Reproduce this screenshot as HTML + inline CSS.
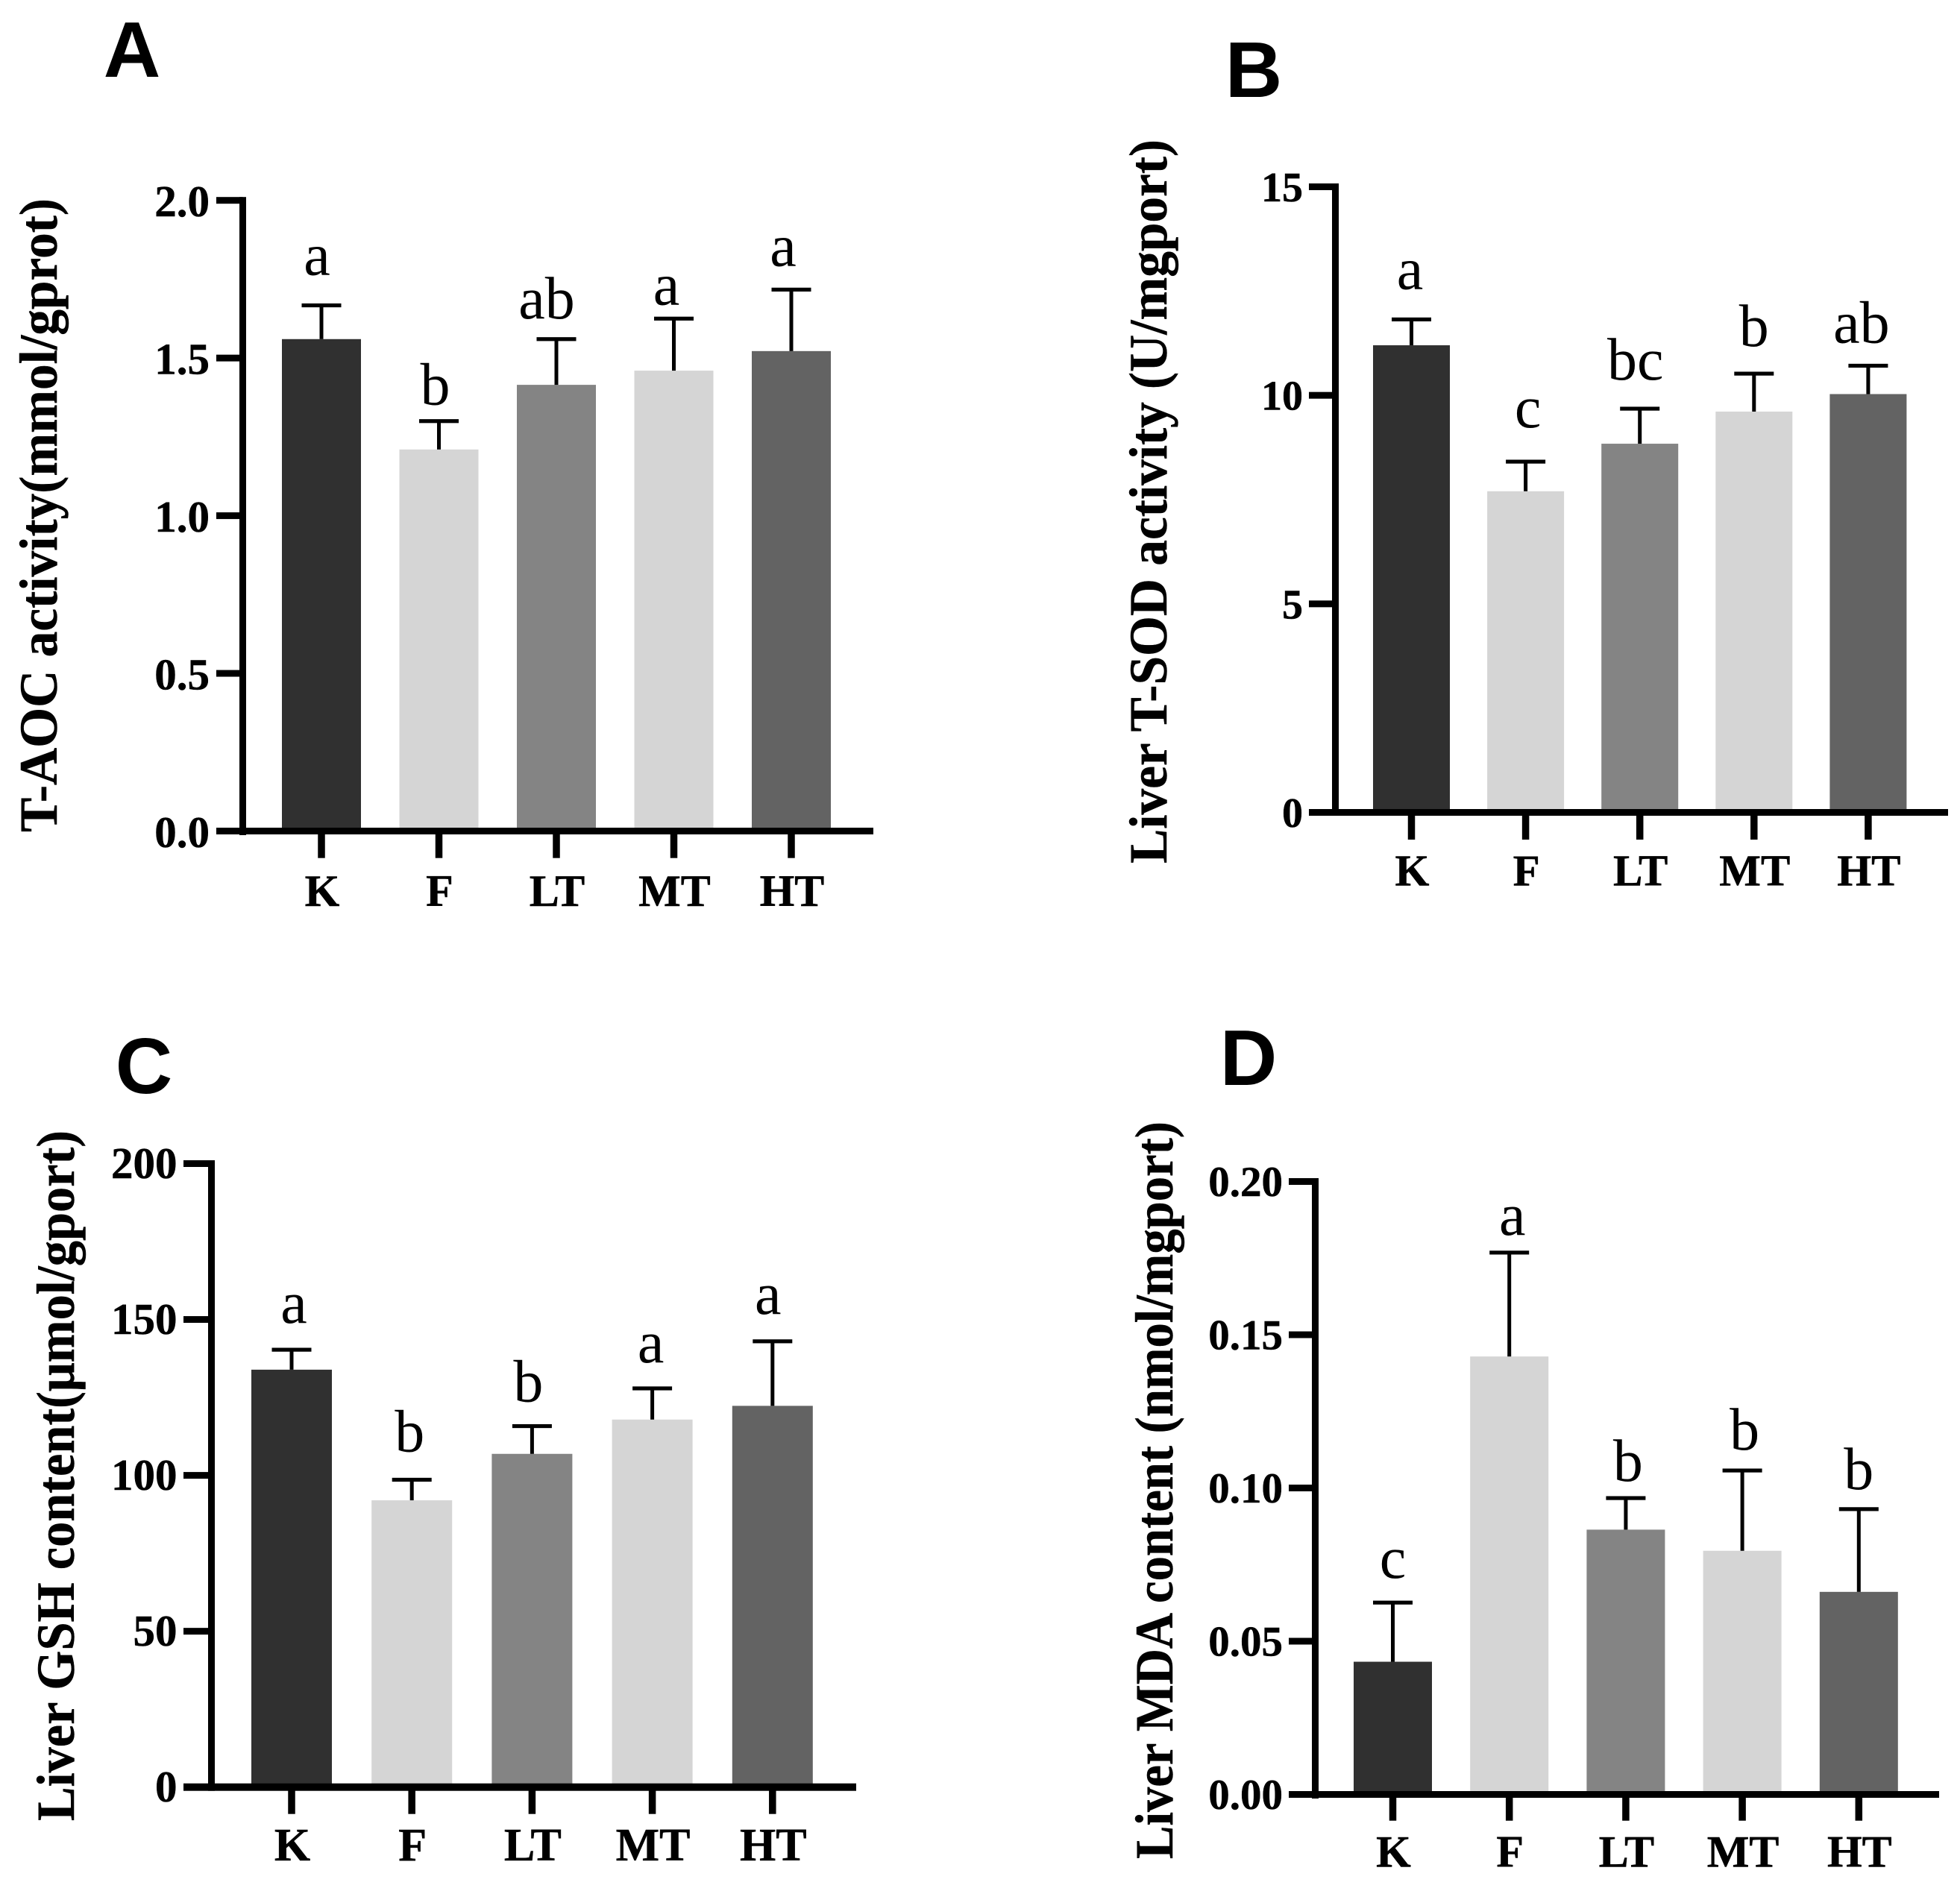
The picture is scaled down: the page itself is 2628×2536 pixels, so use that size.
<!DOCTYPE html>
<html lang="en">
<head>
<meta charset="utf-8">
<title>Liver antioxidant indices</title>
<style>
  html, body { margin: 0; padding: 0; background: #ffffff; }
  svg { display: block; }
  .serif { font-family: "Liberation Serif", "DejaVu Serif", serif; fill: #000; }
  .bold { font-weight: 700; stroke: #000; stroke-width: 0.5px; }
  .sans { font-family: "Liberation Sans", "DejaVu Sans", sans-serif; font-weight: 700; fill: #000; }
</style>
</head>
<body>
<svg id="figure" xmlns="http://www.w3.org/2000/svg" width="2628" height="2536" viewBox="0 0 2628 2536">
  <rect x="0" y="0" width="2628" height="2536" fill="#ffffff"></rect>
</svg>
<script>
// ---- Data ----
const categories = ["K", "F", "LT", "MT", "HT"];

const aMeans = [1.56, 1.21, 1.415, 1.46, 1.522];
const aErrorTops = [1.667, 1.30, 1.56, 1.625, 1.717];
const aLetters = ["a", "b", "ab", "a", "a"];
const aTickLabels = ["0.0", "0.5", "1.0", "1.5", "2.0"];

const bMeans = [11.2, 7.7, 8.84, 9.61, 10.03];
const bErrorTops = [11.82, 8.41, 9.68, 10.52, 10.71];
const bLetters = ["a", "c", "bc", "b", "ab"];
const bTickLabels = ["0", "5", "10", "15"];

const cMeans = [133.9, 92, 106.9, 117.9, 122.3];
const cErrorTops = [140.3, 98.6, 115.8, 127.9, 143];
const cLetters = ["a", "b", "b", "a", "a"];
const cTickLabels = ["0", "50", "100", "150", "200"];

const dMeans = [0.0433, 0.1429, 0.0864, 0.0795, 0.0661];
const dErrorTops = [0.0626, 0.1768, 0.0967, 0.1057, 0.0931];
const dLetters = ["c", "a", "b", "b", "b"];
const dTickLabels = ["0.00", "0.05", "0.10", "0.15", "0.20"];

// ---- Styling and layout, kept apart from the data ----
const barColors = ["#303030", "#d5d5d5", "#848484", "#d5d5d5", "#636363"];
const NS = "http://www.w3.org/2000/svg";
const figure = document.getElementById("figure");

function make(tag, attrs, parent, text) {
  const el = document.createElementNS(NS, tag);
  for (const key in attrs) el.setAttribute(key, attrs[key]);
  if (text !== undefined) el.textContent = text;
  parent.appendChild(el);
  return el;
}

function drawPanel(p) {
  const yScale = v => p.y0 - (v / p.yMax) * (p.y0 - p.yTop);
  const xScale = i => p.xFirst + i * p.xStep;

  const group = make("g", {}, figure);
  
  

  const letter = make("text", { x: p.letterX, y: p.letterY, "text-anchor": "middle", "font-size": 106, class: "sans" }, group, p.id.toUpperCase());
  
  

  const title = make("text", {
    transform: "translate(" + p.titleX + "," + p.titleBottom + ") rotate(-90)",
    x: 0, y: 0, "font-size": 72, class: "serif bold",
    textLength: p.titleLength, lengthAdjust: "spacingAndGlyphs"
  }, group, p.title);
  
  

  p.means.forEach((value, i) => {
    const cx = xScale(i);
    const top = yScale(value);
    const bar = make("rect", { x: cx - p.barWidth / 2, y: top, width: p.barWidth, height: p.y0 - top, fill: barColors[i] }, group);
    
    

    const errY = yScale(p.errorTops[i]);
    const stem = make("rect", { x: cx - 2.5, y: errY, width: 5, height: top - errY, fill: "#000" }, group);
    
    

    const cap = make("rect", { x: cx - 26.5, y: errY - 2.6, width: 53, height: 5.2, fill: "#000" }, group);
    
    

    const sig = make("text", {
      x: cx + p.sigNudgeX[i], y: errY - p.sigLift[i],
      "text-anchor": "middle", "font-size": 80, class: "serif"
    }, group, p.letters[i]);
    
    

    const tick = make("rect", { x: cx - 4.75, y: p.y0, width: 9.5, height: p.xTickBottom - p.y0, fill: "#000" }, group);
    
    

    const label = make("text", {
      x: cx + 1, y: p.xLabelY, "text-anchor": "middle", "font-size": p.xFont, class: "serif bold"
    }, group, categories[i]);
    
    
  });

  p.tickLabels.forEach(t => {
    const y = yScale(Number(t));
    const tick = make("rect", { x: p.tickLeft, y: y - 4.5, width: p.axisX - p.tickLeft, height: 9, fill: "#000" }, group);
    
    

    const label = make("text", {
      x: p.tickLabelRight, y: y + p.tickBaseline, "text-anchor": "end", "font-size": p.tickFont, class: "serif bold"
    }, group, t);
    
    
  });

  const yAxis = make("rect", { x: p.axisX - 4.5, y: p.yTop - 4.5, width: 9, height: p.y0 + p.axisOver - p.yTop + 4.5, fill: "#000" }, group);
  
  

  const xAxis = make("rect", { x: p.tickLeft, y: p.y0 - p.xAxisWidth / 2, width: p.xEnd - p.tickLeft, height: p.xAxisWidth, fill: "#000" }, group);
  
  
}

drawPanel({
  id: "a", title: "T-AOC activity(mmol/gprot)",
  means: aMeans, errorTops: aErrorTops, letters: aLetters, tickLabels: aTickLabels, yMax: 2,
  axisX: 325.5, y0: 1114.5, yTop: 268.7, tickLeft: 290, xEnd: 1171, axisOver: 5.5, xAxisWidth: 9,
  xFirst: 431, xStep: 157.5, barWidth: 106, xTickBottom: 1150.7,
  tickLabelRight: 281, tickBaseline: 21.5, tickFont: 59, xFont: 60, xLabelY: 1215,
  titleX: 76, titleBottom: 1116, titleLength: 850,
  letterX: 177, letterY: 103,
  sigNudgeX: [-6, -5, -13, -10, -11], sigLift: [41, 22, 28, 19, 32]
});

drawPanel({
  id: "b", title: "Liver T-SOD activity (U/mgport)",
  means: bMeans, errorTops: bErrorTops, letters: bLetters, tickLabels: bTickLabels, yMax: 15,
  axisX: 1790.5, y0: 1089.5, yTop: 250.5, tickLeft: 1755, xEnd: 2612, axisOver: 4.5, xAxisWidth: 9,
  xFirst: 1892.5, xStep: 153.1, barWidth: 103, xTickBottom: 1126,
  tickLabelRight: 1747, tickBaseline: 19.5, tickFont: 56, xFont: 59, xLabelY: 1187.7,
  titleX: 1564, titleBottom: 1158, titleLength: 971,
  letterX: 1681, letterY: 130,
  sigNudgeX: [-2, 3, -6, 0, -9], sigLift: [41, 46, 39, 37, 31]
});

drawPanel({
  id: "c", title: "Liver GSH content(\u03BCmol/gport)",
  means: cMeans, errorTops: cErrorTops, letters: cLetters, tickLabels: cTickLabels, yMax: 200,
  axisX: 283.5, y0: 2396.7, yTop: 1560.5, tickLeft: 246, xEnd: 1148, axisOver: 5, xAxisWidth: 10,
  xFirst: 391, xStep: 161.2, barWidth: 108, xTickBottom: 2432.7,
  tickLabelRight: 237.5, tickBaseline: 19.5, tickFont: 59, xFont: 62, xLabelY: 2495,
  titleX: 99, titleBottom: 2442, titleLength: 926,
  letterX: 193, letterY: 1466,
  sigNudgeX: [3, -3, -5, -2, -6], sigLift: [36, 38, 33, 35, 37]
});

drawPanel({
  id: "d", title: "Liver MDA content (nmol/mgport)",
  means: dMeans, errorTops: dErrorTops, letters: dLetters, tickLabels: dTickLabels, yMax: 0.2,
  axisX: 1763.5, y0: 2406.5, yTop: 1584.5, tickLeft: 1728, xEnd: 2600, axisOver: 5.5, xAxisWidth: 9,
  xFirst: 1867.5, xStep: 156.2, barWidth: 105, xTickBottom: 2441.7,
  tickLabelRight: 1720, tickBaseline: 19.5, tickFont: 57, xFont: 60, xLabelY: 2503.7,
  titleX: 1572, titleBottom: 2493, titleLength: 989,
  letterX: 1674, letterY: 1455,
  sigNudgeX: [0, 4, 3, 3, 0], sigLift: [33, 24, 23, 28, 27]
});
</script>
</body>
</html>
